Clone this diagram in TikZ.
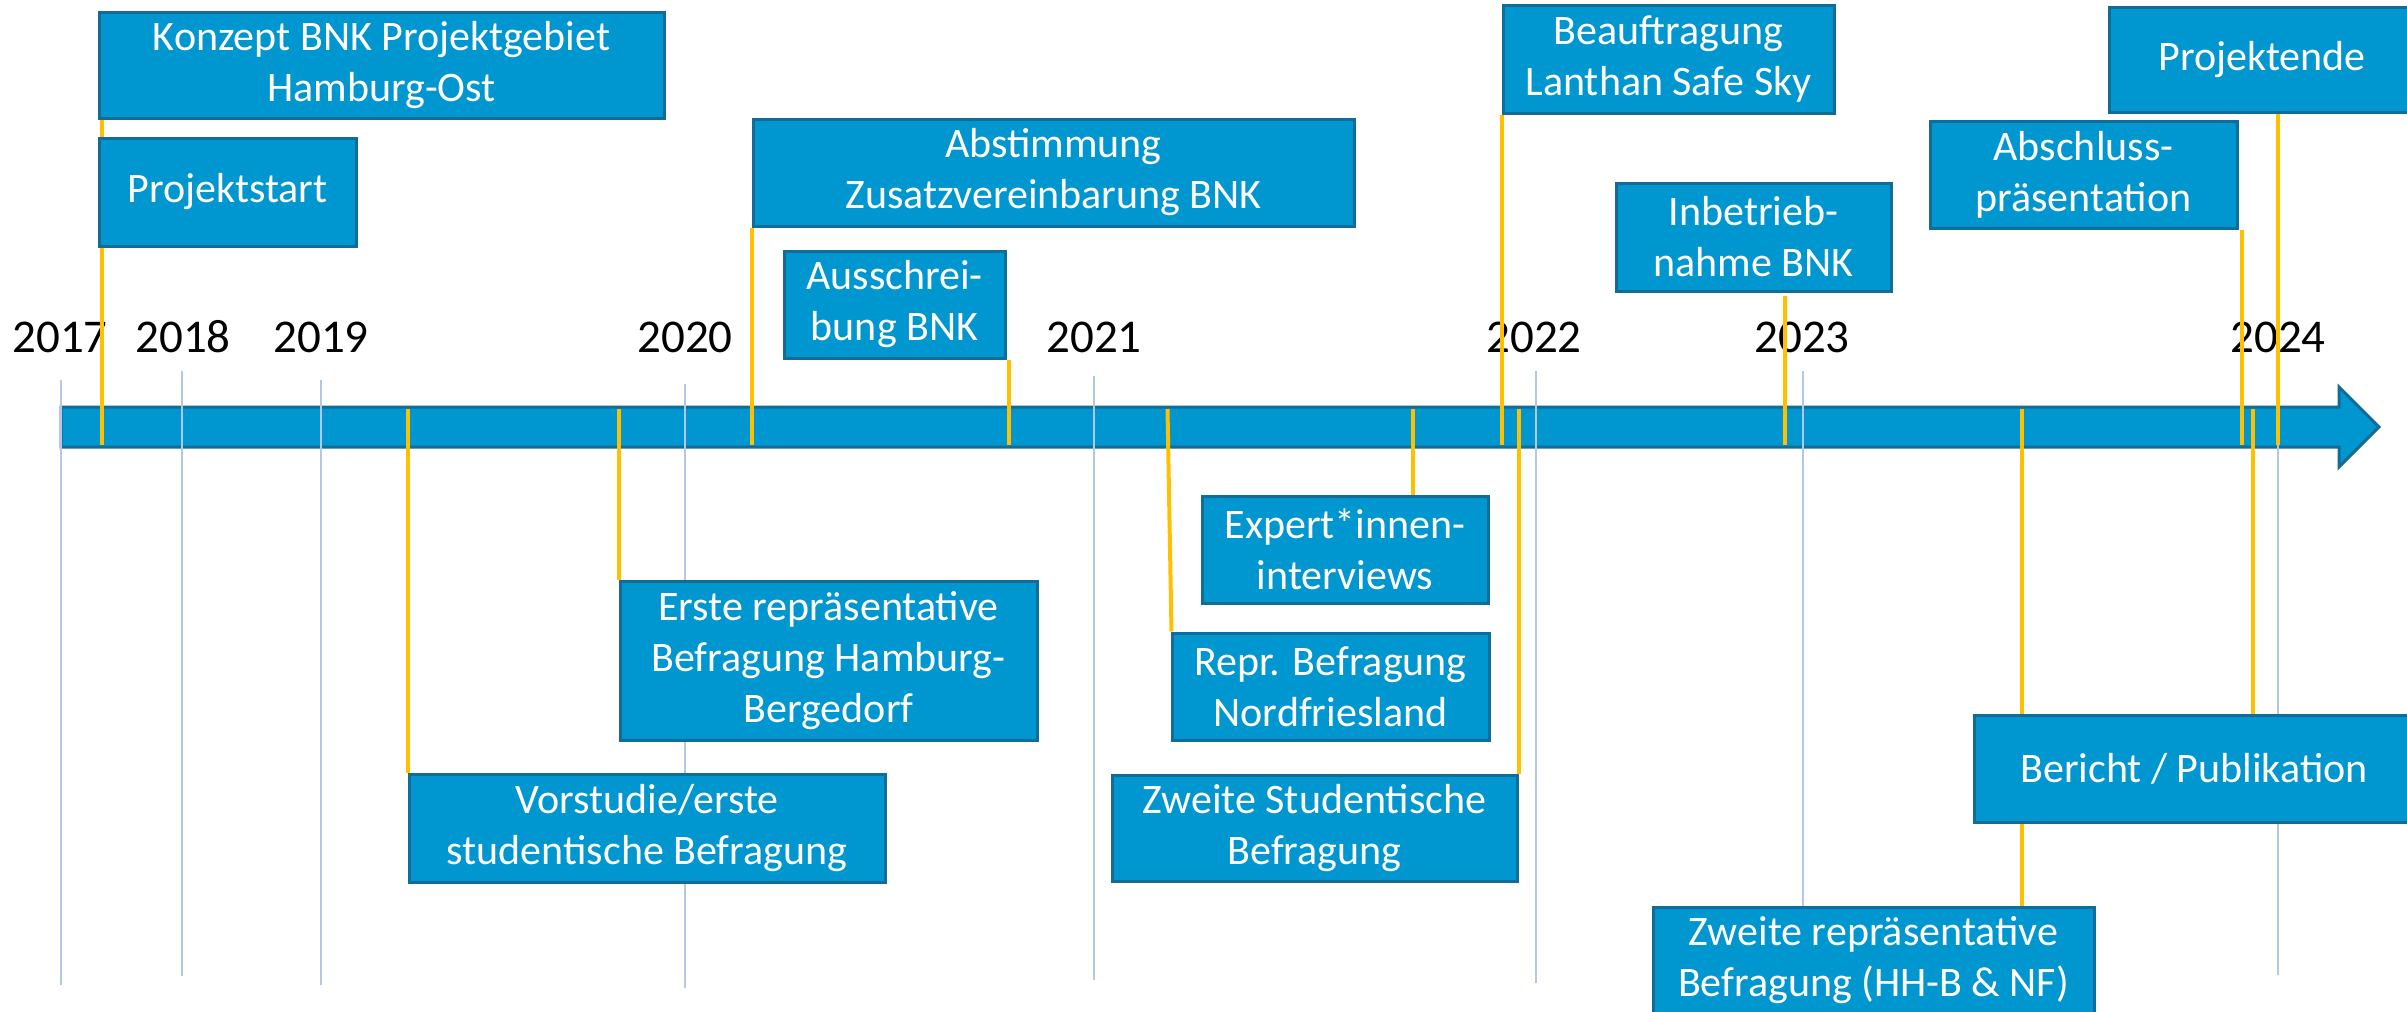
\documentclass[tikz,border=0pt]{standalone}
\usepackage{fontspec}
\setmainfont{Carlito}
\definecolor{boxfill}{RGB}{0,150,208}
\definecolor{boxline}{RGB}{18,108,152}
\definecolor{gridc}{RGB}{180,199,231}
\definecolor{yel}{RGB}{255,192,0}
\pgfdeclarelayer{bg}
\pgfdeclarelayer{mid}
\pgfsetlayers{bg,mid,main}
\tikzset{
  box/.style={draw=boxline, fill=boxfill, line width=3pt, text=white, align=center,
    inner sep=0pt, font=\fontsize{42pt}{51pt}\selectfont},
  yl/.style={draw=yel, line width=4pt},
  gridline/.style={draw=gridc, line width=1.5pt},
  yearlbl/.style={anchor=base, inner sep=0pt, font=\fontsize{47pt}{56pt}\selectfont},
}
\begin{document}
\begin{tikzpicture}[x=1pt,y=-1pt]
\useasboundingbox (0,0) rectangle (2407,1012);
\coordinate (bt) at (0,409);
\coordinate (bb) at (0,445);

% boxes
\node[box, minimum width=565pt, minimum height=106pt] (konzept) at (381.5,65) {Konzept BNK Projektgebiet\\Hamburg-Ost};
\node[box, minimum width=257pt, minimum height=108pt] (projektstart) at (227.5,192) {Projektstart};
\node[box, minimum width=601pt, minimum height=107pt] (abstimmung) at (1053.5,172.5) {Abstimmung\\Zusatzvereinbarung BNK};
\node[box, minimum width=221pt, minimum height=107pt] (ausschreibung) at (894.5,304.5) {Ausschrei-\\bung BNK};
\node[box, minimum width=331pt, minimum height=108pt] (beauftragung) at (1668.5,59) {Beauftragung\\Lanthan Safe Sky};
\node[box, minimum width=275pt, minimum height=108pt] (inbetrieb) at (1753.5,237) {Inbetrieb-\\nahme BNK};
\node[box, minimum width=307pt, minimum height=107pt] (abschluss) at (2083.5,174.5) {Abschluss-\\präsentation};
\node[box, minimum width=306pt, minimum height=105pt] (projektende) at (2262,59.5) {Projektende};
\node[box, minimum width=476pt, minimum height=108pt] (vorstudie) at (647,828) {Vorstudie/erste\\studentische Befragung};
\node[box, minimum width=417pt, minimum height=159pt] (erste) at (828.5,660.5) {Erste repräsentative\\Befragung Hamburg-\\Bergedorf};
\node[box, minimum width=317pt, minimum height=107pt] (nord) at (1330.5,686.5) {Repr. Befragung\\Nordfriesland};
\node[box, minimum width=286pt, minimum height=107pt] (expert) at (1345,549.5) {Expert*innen-\\interviews};
\node[box, minimum width=405pt, minimum height=106pt] (zweitestud) at (1314.5,828) {Zweite Studentische\\Befragung};
\node[box, minimum width=440pt, minimum height=107pt] (bericht) at (2194,768.5) {Bericht / Publikation};
\node[box, minimum width=441pt, minimum height=107pt] (zweiterepr) at (1873.5,960.5) {Zweite repräsentative\\Befragung (HH-B \& NF)};

\begin{pgfonlayer}{bg}
  % timeline arrow
  \path[draw=boxline, fill=boxfill, line width=3pt, line join=miter]
    (61,407) -- (2339,407) -- (2339,387) -- (2379,427) -- (2339,467) -- (2339,447) -- (61,447) -- cycle;
  % grid lines
  \draw[gridline] (61,380) -- (61,985);
  \draw[gridline] (182,371) -- (182,976);
  \draw[gridline] (321,380) -- (321,985);
  \draw[gridline] (685,384) -- (685,988);
  \draw[gridline] (1094,376) -- (1094,980);
  \draw[gridline] (1536,371) -- (1536,983);
  \draw[gridline] (1803,371) -- (1803,983);
  \draw[gridline] (2278,371) -- (2278,975);
  % years
  \node[yearlbl] (y2017) at (60,352) {2017};
  \node[yearlbl] (y2018) at (183,352) {2018};
  \node[yearlbl] (y2019) at (321,352) {2019};
  \node[yearlbl] (y2020) at (685,352) {2020};
  \node[yearlbl] (y2021) at (1094,352) {2021};
  \node[yearlbl] (y2022) at (1534,352) {2022};
  \node[yearlbl] (y2023) at (1802,352) {2023};
  \node[yearlbl] (y2024) at (2278,352) {2024};
\end{pgfonlayer}

\begin{pgfonlayer}{mid}
  \draw[yl] ([xshift=4pt]konzept.south west) -- ([xshift=4pt]konzept.south west |- bb);
  \draw[yl] (vorstudie.north west |- bt) -- (vorstudie.north west);
  \draw[yl] (erste.north west |- bt) -- (erste.north west);
  \draw[yl] (abstimmung.south west) -- (abstimmung.south west |- bb);
  \draw[yl] ([xshift=2pt]ausschreibung.south east) -- ([xshift=2pt]ausschreibung.south east |- bb);
  \draw[yl] ([xshift=-3pt]nord.north west |- bt) -- ([xshift=1pt]nord.north west);
  \draw[yl] ([xshift=212pt]expert.north west |- bt) -- ([xshift=212pt]expert.north west);
  \draw[yl] (beauftragung.south west) -- (beauftragung.south west |- bb);
  \draw[yl] (zweitestud.north east |- bt) -- (zweitestud.north east);
  \draw[yl] ([xshift=31pt,yshift=-3pt]inbetrieb.south) -- ([xshift=31pt]inbetrieb.south |- bb);
  \draw[yl] ([xshift=148pt]zweiterepr.north |- bt) -- ([xshift=148pt]zweiterepr.north);
  \draw[yl] ([xshift=280pt]bericht.north west |- bt) -- ([xshift=280pt]bericht.north west);
  \draw[yl] ([xshift=3pt]abschluss.south east) -- ([xshift=3pt]abschluss.south east |- bb);
  \draw[yl] ([xshift=16pt]projektende.south) -- ([xshift=16pt]projektende.south |- bb);
\end{pgfonlayer}
\end{tikzpicture}
\end{document}
